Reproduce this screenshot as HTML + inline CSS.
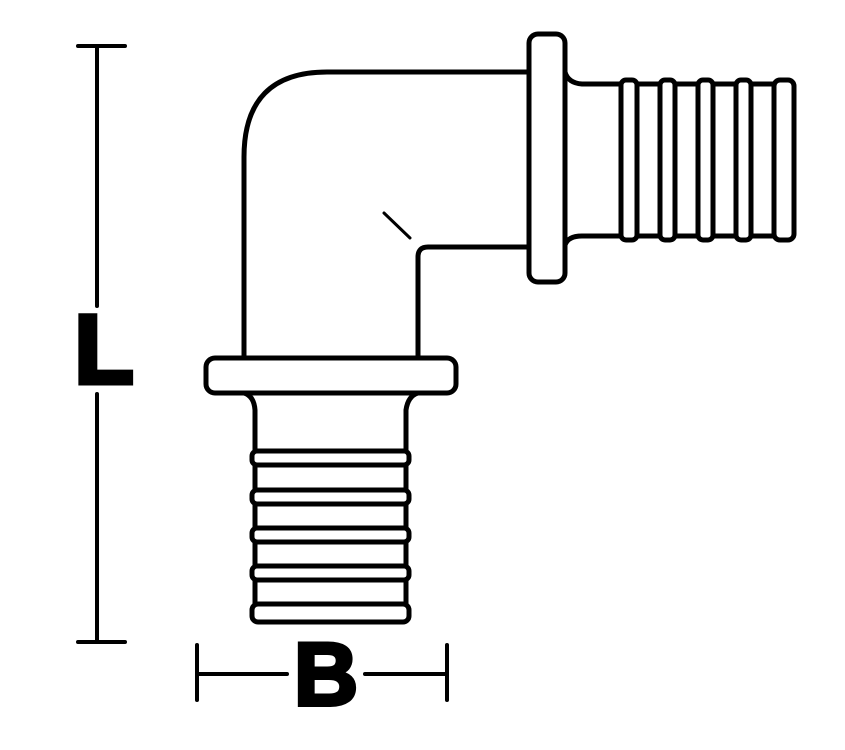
<!DOCTYPE html>
<html><head><style>html,body{margin:0;padding:0;background:#fff}svg{display:block}</style></head>
<body>
<svg width="845" height="750" viewBox="0 0 845 750" xmlns="http://www.w3.org/2000/svg">
<g fill="none" stroke="#000" stroke-width="5" stroke-linejoin="round" stroke-linecap="round">
<path d="M528,72 L327,72 Q244,72 244,157 L244,357"/>
<path d="M418,357 L418,257 Q418,247 428,247 L528,247"/>
<line x1="384" y1="213" x2="410" y2="238" stroke-width="3"/>
<rect x="529" y="34" width="36" height="248" rx="9"/>
<path d="M565,72 Q568,83 582,84 L620,84"/>
<path d="M565,245 Q568,236 582,236 L620,236"/>
<rect x="621" y="80" width="16" height="160" rx="5"/>
<rect x="660" y="80" width="15" height="160" rx="5"/>
<rect x="698" y="80" width="15" height="160" rx="5"/>
<rect x="736" y="80" width="15" height="160" rx="5"/>
<rect x="774" y="80" width="20" height="160" rx="6"/>
<line x1="637" y1="84" x2="660" y2="84"/><line x1="637" y1="236" x2="660" y2="236"/>
<line x1="675" y1="84" x2="698" y2="84"/><line x1="675" y1="236" x2="698" y2="236"/>
<line x1="713" y1="84" x2="736" y2="84"/><line x1="713" y1="236" x2="736" y2="236"/>
<line x1="751" y1="84" x2="774" y2="84"/><line x1="751" y1="236" x2="774" y2="236"/>
<rect x="206" y="358" width="250" height="35" rx="9"/>
<path d="M244,393 Q254,396 255,410 L255,450"/>
<path d="M418,393 Q408,396 406,410 L406,450"/>
<rect x="252" y="451" width="157" height="14" rx="5"/>
<rect x="252" y="490" width="157" height="14" rx="5"/>
<rect x="252" y="528" width="157" height="14" rx="5"/>
<rect x="252" y="566" width="157" height="14" rx="5"/>
<rect x="252" y="604" width="157" height="18" rx="6"/>
<line x1="255" y1="465" x2="255" y2="490"/><line x1="406" y1="465" x2="406" y2="490"/>
<line x1="255" y1="504" x2="255" y2="528"/><line x1="406" y1="504" x2="406" y2="528"/>
<line x1="255" y1="542" x2="255" y2="566"/><line x1="406" y1="542" x2="406" y2="566"/>
<line x1="255" y1="580" x2="255" y2="604"/><line x1="406" y1="580" x2="406" y2="604"/>
</g>
<g stroke="#000" stroke-width="4" stroke-linecap="round">
<line x1="97" y1="46" x2="97" y2="306"/>
<line x1="97" y1="394" x2="97" y2="642"/>
<line x1="78" y1="46" x2="125" y2="46"/>
<line x1="78" y1="642" x2="125" y2="642"/>
<line x1="197" y1="645" x2="197" y2="700"/>
<line x1="447" y1="645" x2="447" y2="700"/>
<line x1="197" y1="674" x2="287" y2="674"/>
<line x1="365" y1="674" x2="447" y2="674"/>
</g>
<text x="104" y="383" text-anchor="middle" font-family="Liberation Sans, sans-serif" font-weight="bold" font-size="97" stroke="#000" stroke-width="5" fill="#000">L</text>
<text x="326" y="705" text-anchor="middle" font-family="Liberation Sans, sans-serif" font-weight="bold" font-size="89" stroke="#000" stroke-width="4" fill="#000">B</text>
</svg>
</body></html>
